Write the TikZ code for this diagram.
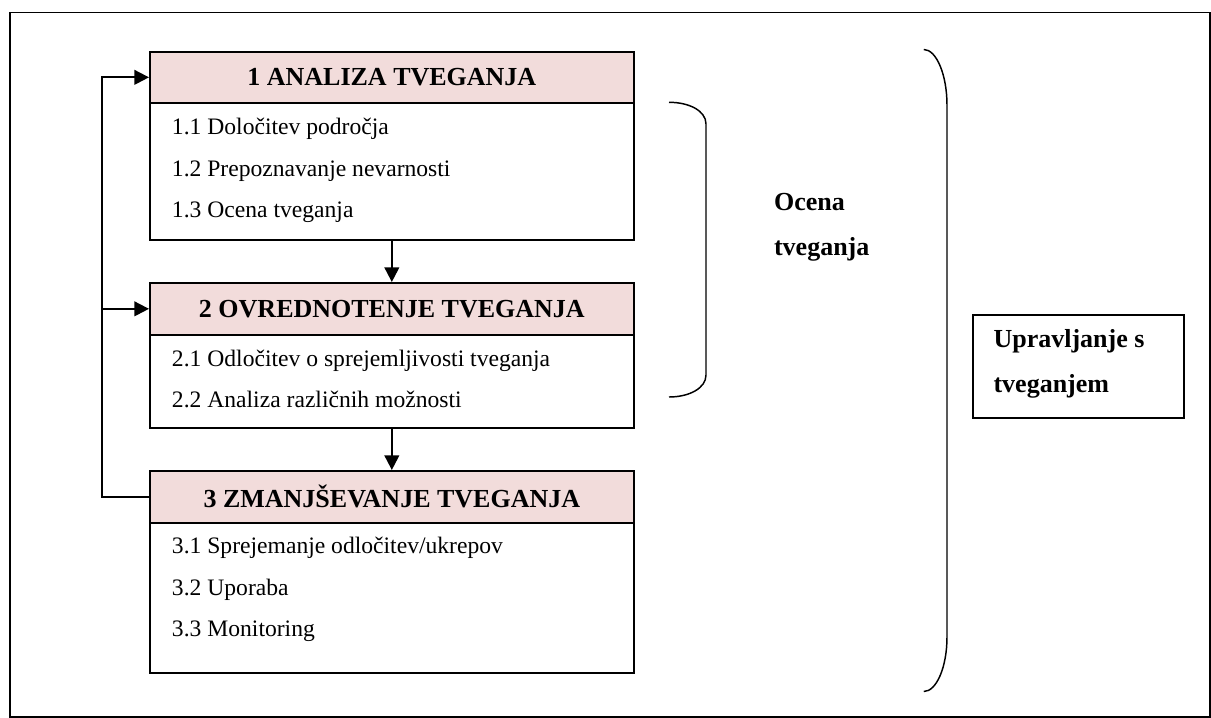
\documentclass[tikz,border=0pt]{standalone}
\usepackage{fontspec}
\setmainfont{Liberation Serif}
\usetikzlibrary{arrows.meta}
\definecolor{hdrpink}{HTML}{F2DCDB}
\begin{document}
\begin{tikzpicture}[x=0.75pt,y=-0.75pt,
  hdr/.style={draw, fill=hdrpink, line width=1.25pt, minimum width=363pt, anchor=north west, inner sep=0pt, font=\fontsize{19.5}{23}\selectfont\bfseries},
  bodybox/.style={draw, fill=white, line width=1.25pt, minimum width=363pt, anchor=north west, inner sep=0pt},
  item/.style={anchor=base west, inner sep=0pt, font=\fontsize{17.7}{21}\selectfont},
  lbl/.style={anchor=base west, inner sep=0pt, font=\fontsize{19.5}{23}\selectfont\bfseries},
  arr/.style={line width=1.5pt, -{Triangle[length=11pt,width=11pt]}},
  ln/.style={line width=1.5pt},
  bracket/.style={line width=1.1pt},
  frame/.style={line width=1.1pt}
]
\useasboundingbox (0,0) rectangle (1211,718);
% outer frame
\draw[frame] (10,12.7) rectangle (1210,717);

% boxes
\node[bodybox, minimum height=102.75pt] (b1) at (149,102) {};
\node[hdr, minimum height=38.25pt] (h1) at (149,51) {1 ANALIZA TVEGANJA};
\node[bodybox, minimum height=69.75pt] (b2) at (149,334) {};
\node[hdr, minimum height=39pt] (h2) at (149,282) {2 OVREDNOTENJE TVEGANJA};
\node[bodybox, minimum height=112.5pt] (b3) at (149,522) {};
\node[hdr, minimum height=39pt] (h3) at (149,470) {3 ZMANJŠEVANJE TVEGANJA};

% items
\node[item] (t11) at (171.7,134) {1.1 Določitev področja};
\node[item] (t12) at (171.7,176) {1.2 Prepoznavanje nevarnosti};
\node[item] (t13) at (171.7,217.7) {1.3 Ocena tveganja};
\node[item] (t21) at (171.7,366) {2.1 Odločitev o sprejemljivosti tveganja};
\node[item] (t22) at (171.7,407.7) {2.2 Analiza različnih možnosti};
\node[item] (t31) at (171.7,553.7) {3.1 Sprejemanje odločitev/ukrepov};
\node[item] (t32) at (171.7,595) {3.2 Uporaba};
\node[item] (t33) at (171.7,636.7) {3.3 Monitoring};

% arrows between boxes
\draw[arr] (b1.south) -- (h2.north);
\draw[arr] (b2.south) -- (h3.north);

% feedback loop
\coordinate (fbx) at (101.7,0);
\draw[arr] (h3.west) -- (fbx |- h3.west) |- (h1.west);
\draw[arr] (fbx |- h2.west) -- (h2.west);

% small bracket
\draw[bracket] (669,102.3) .. controls (689.5,102.3) and (706,111) .. (706,124)
  -- (706,375) .. controls (706,388) and (689.5,397) .. (669,397);
% big bracket
\draw[bracket] (923.8,49.5) .. controls (936.5,49.5) and (947,75) .. (947,105)
  -- (947,637) .. controls (947,667) and (936.5,691.5) .. (923.8,691.5);

% labels
\node[lbl] (oc1) at (773.8,210.5) {Ocena};
\node[lbl] (oc2) at (773.8,255.5) {tveganja};

\node[draw, line width=1.25pt, anchor=north west, minimum width=158.25pt, minimum height=77.25pt, inner sep=0pt] (upr) at (972,314) {};
\node[lbl] (up1) at (993.3,347) {Upravljanje s};
\node[lbl] (up2) at (993.3,392) {tveganjem};
\end{tikzpicture}
\end{document}
